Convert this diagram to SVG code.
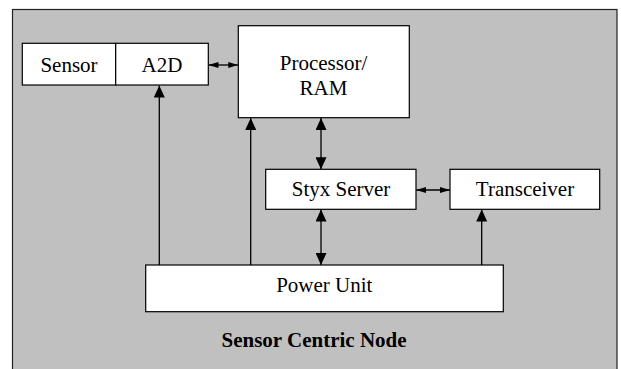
<svg xmlns="http://www.w3.org/2000/svg" width="621" height="369" viewBox="0 0 621 369">
<defs>
<style>
.box{fill:#fff;stroke:#000;stroke-width:1.2}
.lbl{font-family:'Liberation Serif','Times New Roman',Times,'DejaVu Serif',serif;font-size:21px;fill:#000;text-anchor:middle}
.ttl{font-family:'Liberation Serif','Times New Roman',Times,'DejaVu Serif',serif;font-size:21px;font-weight:bold;fill:#000;text-anchor:middle}
.ln{stroke:#000;stroke-width:1.3;fill:none}
</style>
<marker id="big" markerUnits="userSpaceOnUse" markerWidth="12" markerHeight="11" refX="12" refY="5.5" orient="auto-start-reverse">
<path d="M0,0 L12,5.5 L0,11 z" fill="#000"/>
</marker>
<marker id="small" markerUnits="userSpaceOnUse" markerWidth="10" markerHeight="6" refX="10" refY="3" orient="auto-start-reverse">
<path d="M0,0 L10,3 L0,6 z" fill="#000"/>
</marker>
</defs>
<rect x="12.5" y="9.5" width="604.5" height="370" fill="#c0c0c0" stroke="#222" stroke-width="1.2"/>
<g id="connectors">
<line class="ln" x1="208.5" y1="65" x2="238.3" y2="65" marker-start="url(#small)" marker-end="url(#small)"/>
<line class="ln" x1="159.3" y1="265" x2="159.3" y2="85.5" marker-end="url(#big)"/>
<line class="ln" x1="250.7" y1="265" x2="250.7" y2="118" marker-end="url(#big)"/>
<line class="ln" x1="321" y1="118" x2="321" y2="169.3" marker-start="url(#big)" marker-end="url(#big)"/>
<line class="ln" x1="321" y1="209.5" x2="321" y2="265" marker-start="url(#big)" marker-end="url(#big)"/>
<line class="ln" x1="416.2" y1="190" x2="450" y2="190" marker-start="url(#small)" marker-end="url(#small)"/>
<line class="ln" x1="481.7" y1="265" x2="481.7" y2="209.5" marker-end="url(#big)"/>
</g>
<g id="sensor">
<rect class="box" x="22.3" y="43.3" width="93.4" height="41.7"/>
<text class="lbl" x="69" y="72" font-family="Liberation Serif, serif">Sensor</text>
</g>
<g id="a2d">
<rect class="box" x="115.7" y="43.3" width="92.6" height="41.7"/>
<text class="lbl" x="162" y="72">A2D</text>
</g>
<g id="processor">
<rect class="box" x="238.3" y="25.7" width="171" height="92"/>
<text class="lbl" x="323.5" y="70">Processor/</text>
<text class="lbl" x="323.5" y="95">RAM</text>
</g>
<g id="styx">
<rect class="box" x="265.7" y="169.3" width="150.3" height="40"/>
<text class="lbl" x="341" y="195.7">Styx Server</text>
</g>
<g id="transceiver">
<rect class="box" x="450" y="169.3" width="149.7" height="40"/>
<text class="lbl" x="525" y="195.7">Transceiver</text>
</g>
<g id="power">
<rect class="box" x="145.7" y="265" width="357.6" height="46.7"/>
<text class="lbl" x="324.3" y="291.7">Power Unit</text>
</g>
<text class="ttl" x="314" y="347.3">Sensor Centric Node</text>
</svg>
